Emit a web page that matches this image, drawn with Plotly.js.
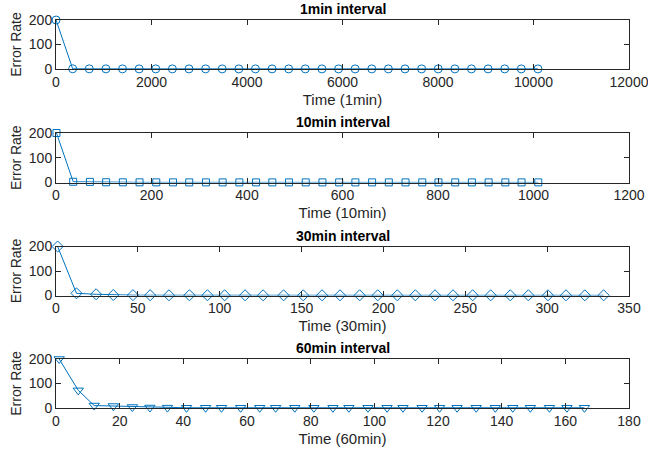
<!DOCTYPE html>
<html>
<head>
<meta charset="utf-8">
<script src="https://cdn.plot.ly/plotly-3.0.1.min.js"></script>
<style>html,body{margin:0;padding:0;background:#fff;}#chart{width:648px;height:453px;}</style>
</head>
<body>
<div id="chart"></div>
<script>
// Data
const titles = ["1min interval", "10min interval", "30min interval", "60min interval"];
const xTitles = ["Time (1min)", "Time (10min)", "Time (30min)", "Time (60min)"];
const xRanges = [[0, 12000], [0, 1200], [0, 350], [0, 180]];
const xDticks = [2000, 200, 50, 20];
const yTicks = [0, 100, 200];

const x1 = [1,349,697,1045,1393,1741,2089,2437,2785,3133,3481,3829,4177,4525,4873,5221,5569,5917,6265,6613,6961,7309,7657,8005,8353,8701,9049,9397,9745,10093];
const y1 = [200,0.9,0.7,0.6,0.5,0.5,0.5,0.4,0.4,0.4,0.4,0.4,0.4,0.4,0.4,0.4,0.4,0.4,0.4,0.4,0.4,0.4,0.4,0.4,0.4,0.4,0.4,0.4,0.4,0.4];

const x2 = [1,36,71,105,140,175,210,245,279,314,349,384,419,453,488,523,558,593,627,662,697,732,767,801,836,871,906,941,975,1010];
const y2 = [200,3,2.5,1,0.8,0.7,0.6,0.6,0.5,0.5,0.5,0.5,0.5,0.5,0.5,0.5,0.5,0.5,0.5,0.5,0.5,0.5,0.5,0.5,0.5,0.5,0.5,0.5,0.5,0.5];

const x3 = [1,12.5,24.5,35,47,57.5,69,81.5,92.5,103,115.5,126.5,139,151,162.5,173.5,185.5,196.5,208.5,219.5,231.5,242.5,254.5,265.5,277.5,288.5,300.5,311.5,323,334.5];
const y3 = [200,9,5,2,1.5,1.2,1,1,1,0.8,0.8,0.8,0.8,0.8,0.8,0.8,0.8,0.8,0.8,0.8,0.8,0.8,0.8,0.8,0.8,0.8,0.8,0.8,0.8,0.8];

const x4 = [1,7,12,18,24,29.5,35,41,47,52,58,64,69,75,81,87,92,98,104,109,115,120.5,126,132,138,143.5,149,155,160.5,166];
const y4 = [200,72,10,8,4,2,1.5,1,1,1,1,1,1,1,1,1,1,1,1,1,1,1,1,1,1,1,1,1,1,1];

const xs = [x1, x2, x3, x4];
const ys = [y1, y2, y3, y4];
const symbols = ["circle-open", "square-open", "diamond-open", "triangle-down-open"];
const msizes = [8, 7, 8.5, 9];

const W = 648, H = 453;
// plot boxes in pixels: [top, bottom]
const boxes = [[20, 69], [133, 182.5], [246.5, 295.5], [359, 408]];

const lineColor = "#0072BD";
const axCol = "#262626";
const fontFam = "Liberation Sans, Arial, Helvetica, sans-serif";

const traces = [];
const layout = {
  width: W, height: H,
  margin: {l: 56, r: 19, t: 0, b: 0},
  paper_bgcolor: "#fff", plot_bgcolor: "#fff",
  showlegend: false,
  font: {family: fontFam, color: axCol, size: 14},
  annotations: []
};

for (let i = 0; i < 4; i++) {
  const n = i === 0 ? "" : String(i + 1);
  traces.push({
    type: "scatter", mode: "lines+markers",
    x: xs[i], y: ys[i],
    xaxis: "x" + n, yaxis: "y" + n,
    cliponaxis: false,
    line: {color: lineColor, width: 1},
    marker: {symbol: symbols[i], size: msizes[i], color: lineColor, line: {color: lineColor, width: 1}}
  });
  const [top, bot] = boxes[i];
  const dom = [1 - bot / H, 1 - top / H];
  layout["xaxis" + n] = {
    domain: [0, 1], anchor: "y" + n,
    range: xRanges[i], dtick: xDticks[i], tick0: 0,
    tickformat: "d", ticklabeloverflow: "allow",
    ticks: "inside", ticklen: 5, tickcolor: axCol, tickwidth: 1,
    showline: true, linecolor: axCol, linewidth: 1, mirror: "ticks",
    showgrid: false, zeroline: false,
    tickfont: {size: 14, color: axCol, family: fontFam},
    title: {text: xTitles[i], font: {size: 15, color: axCol, family: fontFam}, standoff: 5},
    automargin: false
  };
  layout["yaxis" + n] = {
    domain: dom, anchor: "x" + n,
    range: [0, 200], tickvals: yTicks,
    ticks: "inside", ticklen: 5, tickcolor: axCol, tickwidth: 1,
    showline: true, linecolor: axCol, linewidth: 1, mirror: "ticks",
    showgrid: false, zeroline: false,
    tickfont: {size: 14, color: axCol, family: fontFam},
    title: {text: "Error Rate", font: {size: 14, color: axCol, family: fontFam}, standoff: 3},
    automargin: false
  };
  layout.annotations.push({
    text: "<b>" + titles[i] + "</b>",
    xref: "paper", yref: "paper",
    x: 0.5, y: 1 - (top - 11) / H,
    xanchor: "center", yanchor: "middle",
    showarrow: false,
    font: {size: 14, color: "#000", family: fontFam}
  });
}

Plotly.newPlot("chart", traces, layout, {staticPlot: true, displayModeBar: false});
</script>
</body>
</html>
